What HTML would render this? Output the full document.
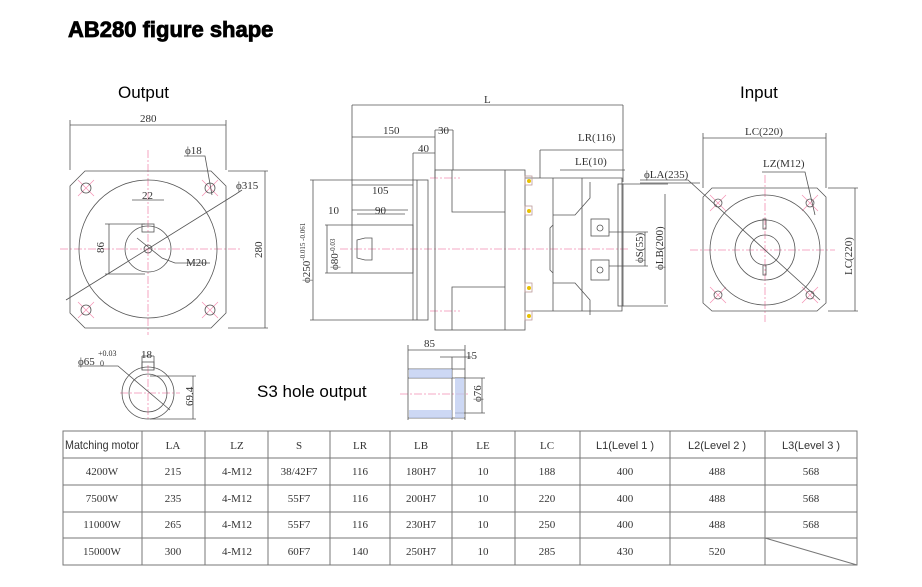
<!DOCTYPE html>
<html><head><meta charset="utf-8"><style>
html,body{margin:0;padding:0;background:#fff;}
svg{display:block}
.t{font-family:"Liberation Serif",serif;font-size:11px;fill:#333}
.s{font-family:"Liberation Sans",sans-serif;}
</style></head><body>
<svg width="922" height="587" viewBox="0 0 922 587" xmlns="http://www.w3.org/2000/svg">
<text x="68" y="37" class="s" font-size="22" font-weight="bold" fill="#000" stroke="#000" stroke-width="0.8">AB280 figure shape</text>
<text x="118" y="98" class="s" font-size="17" fill="#000">Output</text>
<text x="740" y="98" class="s" font-size="17" fill="#000">Input</text>
<text x="257" y="397" class="s" font-size="17" fill="#000">S3 hole output</text>

<g stroke="#f48fb1" stroke-width="0.8" stroke-dasharray="8 2 2 2" fill="none">
<line x1="148" y1="150" x2="148" y2="335"/><line x1="60" y1="249" x2="240" y2="249"/>
<line x1="148" y1="365" x2="148" y2="420"/><line x1="120" y1="393" x2="180" y2="393"/>
<line x1="340" y1="249" x2="630" y2="249"/>
<line x1="765" y1="175" x2="765" y2="322"/><line x1="690" y1="250" x2="835" y2="250"/>
<line x1="400" y1="394" x2="470" y2="394"/>
<line x1="430" y1="178" x2="460" y2="178"/><line x1="430" y1="311" x2="460" y2="311"/>
</g>
<g stroke="#f48fb1" stroke-width="0.7">
<path d="M78 180l16 16M94 180l-16 16M202 180l16 16M218 180l-16 16M78 302l16 16M94 302l-16 16M202 302l16 16M218 302l-16 16"/>
<path d="M710 195l16 16M726 195l-16 16M802 195l16 16M818 195l-16 16M710 287l16 16M726 287l-16 16M802 287l16 16M818 287l-16 16"/>
</g>

<g stroke="#555" stroke-width="0.8" fill="none">
<path d="M85 171H211L226 186V313L211 328H85L70 313V186Z"/>
<circle cx="148" cy="249" r="69"/>
<circle cx="148" cy="249" r="23"/>
<circle cx="148" cy="249" r="4"/>
<rect x="142" y="224" width="12" height="8"/>
<circle cx="86" cy="188" r="5"/><circle cx="210" cy="188" r="5"/><circle cx="86" cy="310" r="5"/><circle cx="210" cy="310" r="5"/>
<path d="M70 120V170M226 120V170M70 125H226"/>
<path d="M228 171H268M228 328H268M265 171V328"/>
<path d="M66 300L236 194L242 190"/>
<path d="M105 224H145M105 274H145M109 224V274"/>
<path d="M132 200H164"/>
<path d="M137 238L162 258L175 263H210"/>
<path d="M184 156H205L212 195"/>
<circle cx="148" cy="393" r="26"/><circle cx="148" cy="393" r="19"/>
<rect x="142" y="362" width="12" height="8"/>
<path d="M142 356H154M142 356V370M154 356V370"/>
<path d="M78 366H118L170 410"/>
<path d="M150 376H196M150 419H196M193 376V419"/>
<path d="M352 105H623M352 105V225M623 105V182"/>
<path d="M352 137H435M435 130V178M453 130H435M453 130V170"/>
<path d="M413 153H435M413 153V180"/>
<path d="M352 185H413M352 210H408M357 214H405"/>
<path d="M540 150H623M540 150V178M560 170H625"/>
<rect x="413" y="180" width="15" height="140"/>
<line x1="417" y1="180" x2="417" y2="320"/>
<rect x="435" y="170" width="90" height="160"/>
<path d="M452 170V212H505M452 330V287H505M505 170V330"/>
<rect x="352" y="225" width="61" height="48"/>
<path d="M357 240L365 238H372V260H365L357 258Z"/>
<path d="M525 178H622V311H525"/>
<path d="M553 178V311M582 178V311M590 182V198L575 215H553M590 315V300L575 283H553"/>
<path d="M553 225L550 228V270L553 273"/>
<rect x="591" y="219" width="18" height="17"/><rect x="591" y="260" width="18" height="20"/>
<circle cx="600" cy="228" r="3"/><circle cx="600" cy="270" r="3"/>
<path d="M609 232H648M609 266H648M645 232V266"/>
<rect x="618" y="184" width="5" height="122"/>
<path d="M623 184H668M623 306H668M665 194V304"/>
<path d="M640 183H700"/>
<path d="M313 180V320M310 180H413M310 320H413"/>
<path d="M327 225V273M325 225H352M325 273H352"/>
<g stroke="#b99">
<rect x="525" y="176" width="7" height="9"/><rect x="525" y="206" width="7" height="9"/>
<rect x="525" y="283" width="7" height="9"/><rect x="525" y="311" width="7" height="9"/>
</g>
<path d="M712 188H817L826 197V303L817 311H712L703 303V197Z"/>
<circle cx="765" cy="250" r="55"/><circle cx="765" cy="250" r="30"/><circle cx="765" cy="250" r="15"/>
<rect x="763" y="219" width="3" height="10"/><rect x="763" y="265" width="3" height="10"/>
<circle cx="718" cy="203" r="4"/><circle cx="810" cy="203" r="4"/><circle cx="718" cy="295" r="4"/><circle cx="810" cy="295" r="4"/>
<path d="M703 133V188M826 133V188M703 138H826"/>
<path d="M828 188H858M828 311H858M855 188V311"/>
<path d="M640 180H688L820 300"/>
<path d="M762 172H805L815 215"/>
<path d="M408 345V420M465 345V420M408 350H465M408 369H465M408 378H465M408 418H465M452 357V420M440 357H472"/>
<path d="M455 378H485M455 413H485M482 378V413"/>
</g>
<g fill="#b8c8f0" opacity="0.7">
<rect x="409" y="369" width="43" height="9"/><rect x="409" y="410" width="43" height="8"/><rect x="455" y="378" width="9" height="40"/>
</g>
<g fill="#e8c000"><circle cx="529" cy="181" r="2"/><circle cx="529" cy="211" r="2"/><circle cx="529" cy="288" r="2"/><circle cx="529" cy="316" r="2"/></g>

<g class="t">
<text x="140" y="122">280</text>
<text x="185" y="154">ϕ18</text>
<text x="236" y="189">ϕ315</text>
<text x="142" y="199">22</text>
<text x="104" y="253" transform="rotate(-90 104 253)">86</text>
<text x="186" y="266">M20</text>
<text x="262" y="258" transform="rotate(-90 262 258)">280</text>
<text x="141" y="358">18</text>
<text x="78" y="365">ϕ65</text><text x="98" y="356" font-size="8">+0.03</text><text x="100" y="366" font-size="8">0</text>
<text x="193" y="406" transform="rotate(-90 193 406)">69.4</text>
<text x="484" y="103">L</text>
<text x="383" y="134">150</text>
<text x="438" y="134">30</text>
<text x="418" y="152">40</text>
<text x="372" y="194">105</text>
<text x="328" y="214">10</text>
<text x="375" y="214">90</text>
<text x="578" y="141">LR(116)</text>
<text x="575" y="165">LE(10)</text>
<text x="644" y="178">ϕLA(235)</text>
<text x="310" y="283" transform="rotate(-90 310 283)">ϕ250<tspan font-size="7" dy="-5">-0.015 -0.061</tspan></text>
<text x="338" y="270" transform="rotate(-90 338 270)">ϕ80<tspan font-size="7" dy="-3">-0.03</tspan></text>
<text x="643" y="263" transform="rotate(-90 643 263)">ϕS(55)</text>
<text x="663" y="270" transform="rotate(-90 663 270)">ϕLB(200)</text>
<text x="745" y="135">LC(220)</text>
<text x="763" y="167">LZ(M12)</text>
<text x="852" y="275" transform="rotate(-90 852 275)">LC(220)</text>
<text x="424" y="347">85</text>
<text x="466" y="359">15</text>
<text x="481" y="402" transform="rotate(-90 481 402)">ϕ76</text>
</g>

<g stroke="#777" stroke-width="1" fill="none">
<rect x="63" y="431" width="794" height="134"/>
<path d="M63 458H857M63 485H857M63 512H857M63 538H857"/>
<path d="M142 431V565M205 431V565M268 431V565M330 431V565M390 431V565M452 431V565M515 431V565M580 431V565M670 431V565M765 431V565M765 538L857 565"/>
</g>
<g class="t" font-size="12" text-anchor="middle" fill="#222">
<text x="102" y="449" font-family="Liberation Sans Narrow,Liberation Sans,sans-serif" font-size="12" textLength="74" lengthAdjust="spacingAndGlyphs">Matching motor</text>
<text x="173" y="449">LA</text><text x="237" y="449">LZ</text><text x="299" y="449">S</text><text x="360" y="449">LR</text><text x="421" y="449">LB</text><text x="483" y="449">LE</text><text x="547" y="449">LC</text>
<text x="625" y="449" class="s">L1(Level 1 )</text><text x="717" y="449" class="s">L2(Level 2 )</text><text x="811" y="449" class="s">L3(Level 3 )</text>
<text x="102" y="475">4200W</text><text x="173" y="475">215</text><text x="237" y="475">4-M12</text><text x="299" y="475">38/42F7</text><text x="360" y="475">116</text><text x="421" y="475">180H7</text><text x="483" y="475">10</text><text x="547" y="475">188</text><text x="625" y="475">400</text><text x="717" y="475">488</text><text x="811" y="475">568</text>
<text x="102" y="502">7500W</text><text x="173" y="502">235</text><text x="237" y="502">4-M12</text><text x="299" y="502">55F7</text><text x="360" y="502">116</text><text x="421" y="502">200H7</text><text x="483" y="502">10</text><text x="547" y="502">220</text><text x="625" y="502">400</text><text x="717" y="502">488</text><text x="811" y="502">568</text>
<text x="102" y="528">11000W</text><text x="173" y="528">265</text><text x="237" y="528">4-M12</text><text x="299" y="528">55F7</text><text x="360" y="528">116</text><text x="421" y="528">230H7</text><text x="483" y="528">10</text><text x="547" y="528">250</text><text x="625" y="528">400</text><text x="717" y="528">488</text><text x="811" y="528">568</text>
<text x="102" y="555">15000W</text><text x="173" y="555">300</text><text x="237" y="555">4-M12</text><text x="299" y="555">60F7</text><text x="360" y="555">140</text><text x="421" y="555">250H7</text><text x="483" y="555">10</text><text x="547" y="555">285</text><text x="625" y="555">430</text><text x="717" y="555">520</text>
</g>
</svg>
</body></html>
